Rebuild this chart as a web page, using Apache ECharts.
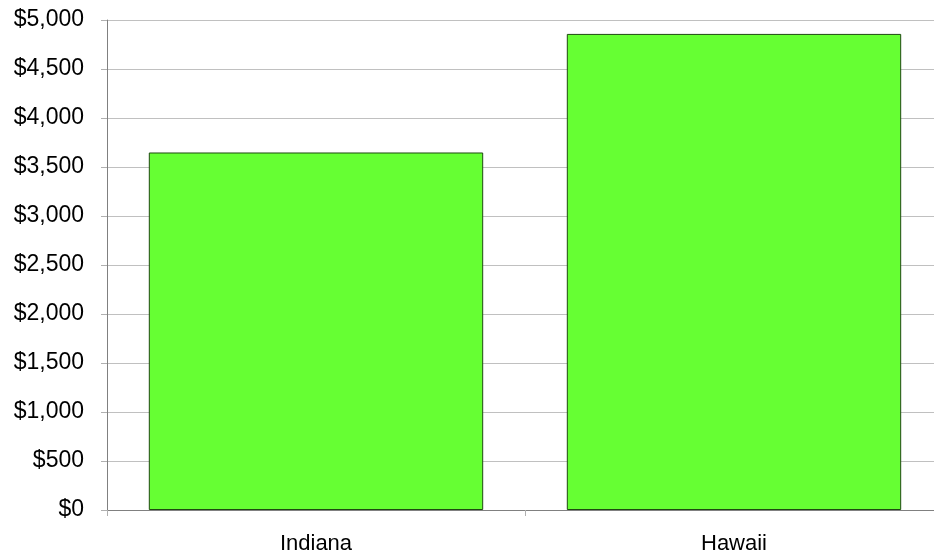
<!DOCTYPE html>
<html>
<head>
<meta charset="utf-8">
<script src="https://cdn.jsdelivr.net/npm/echarts@6/dist/echarts.min.js"></script>
<style>html,body{margin:0;padding:0;background:#fff;overflow:hidden;width:934px;height:557px;}#c{width:943px;height:557px;}</style>
</head>
<body>
<div id="c"></div>
<script>
const categories = ['Indiana', 'Hawaii'];
const values = [3648, 4858];
const yTicks = { min: 0, max: 5000, interval: 500 };

const chart = echarts.init(document.getElementById('c'), null, { renderer: 'canvas' });
chart.setOption({
  animation: false,
  backgroundColor: '#ffffff',
  grid: { left: 107, right: 0, top: 20, bottom: 47, containLabel: false },
  xAxis: {
    type: 'category',
    data: categories,
    axisLine: { lineStyle: { color: '#808080', width: 1 } },
    axisTick: { show: true, length: 6, lineStyle: { color: '#b0b0b0' }, alignWithLabel: false },
    axisLabel: { color: '#000', fontFamily: 'Liberation Sans', fontSize: 22, margin: 23 }
  },
  yAxis: {
    type: 'value',
    min: yTicks.min, max: yTicks.max, interval: yTicks.interval,
    axisLine: { show: true, lineStyle: { color: '#808080', width: 1 } },
    axisTick: { show: true, length: 6, lineStyle: { color: '#b0b0b0' } },
    splitLine: { lineStyle: { color: '#c0c0c0', width: 1 } },
    axisLabel: {
      color: '#000', fontFamily: 'Liberation Sans', fontSize: 23, margin: 23,
      formatter: v => '$' + v.toLocaleString('en-US')
    }
  },
  series: [{
    type: 'bar',
    data: values,
    barCategoryGap: '20%',
    itemStyle: { color: '#66ff33', borderColor: '#1e4a10', borderWidth: 1 }
  }]
});
</script>
</body>
</html>
